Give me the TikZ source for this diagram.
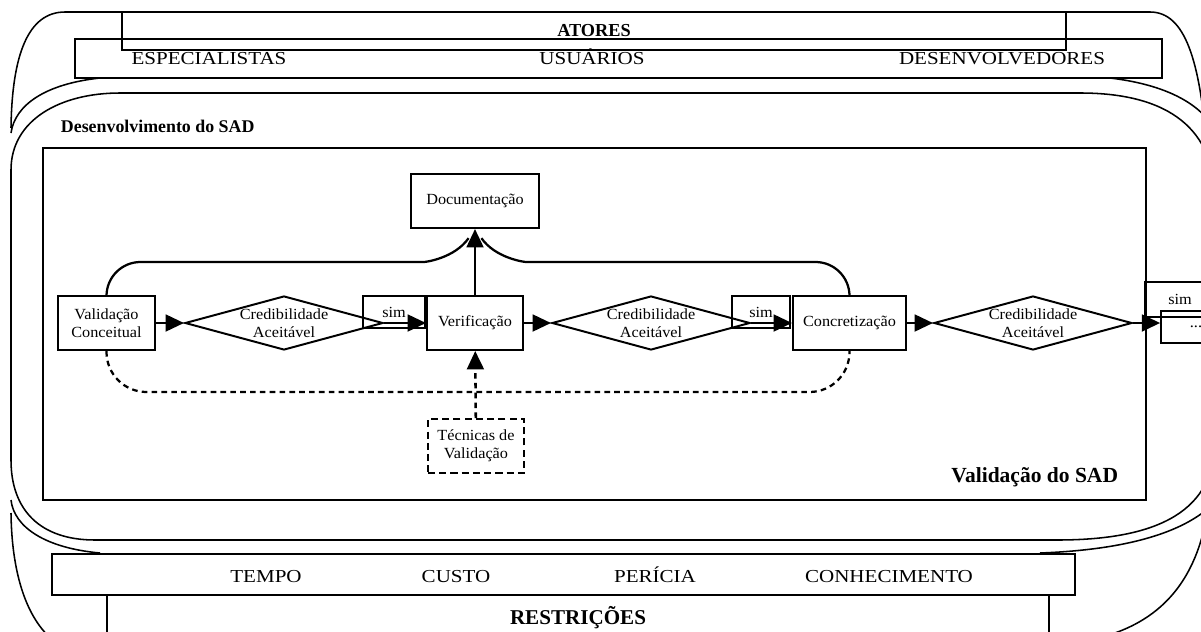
\documentclass[tikz,border=0pt]{standalone}
\usepackage{fontspec}
\setmainfont{Liberation Serif}
\newfontfamily\widefont{Liberation Serif}[FakeStretch=1.15]
\newfontfamily\nodefont{Liberation Serif}[FakeStretch=1.05]
\usetikzlibrary{shapes.geometric, arrows.meta, positioning}

\begin{document}
\begin{tikzpicture}[
    x=0.025cm, y=-0.025cm,
    every node/.style={font=\nodefont\fontsize{11}{12.5}\selectfont},
    process/.style={rectangle, minimum width=2.4cm, minimum height=1.35cm,
                    text centered, align=center, draw=black, line width=1.4pt},
    decision/.style={diamond, shape aspect=3.6, minimum width=4.95cm, minimum height=1.35cm,
                     inner sep=0pt, align=center, draw=black, line width=1.4pt},
    simbox/.style={rectangle, draw=black, line width=1.2pt, minimum width=1.5cm,
                   minimum height=0.8cm, inner sep=0pt},
    band/.style={rectangle, draw=black, line width=1.4pt, inner sep=0pt},
    frame/.style={line width=1.1pt},
    caps/.style={anchor=base, font=\widefont\fontsize{13}{15}\selectfont},
    title/.style={font=\bfseries\fontsize{#1}{#1}\selectfont},
    arrow/.style={-{Triangle[length=0.46cm, width=0.42cm]}, line width=1.8pt},
    dasharrow/.style={arrow, dash pattern=on 4pt off 3pt},
    link/.style={line width=1.6pt}
]
\useasboundingbox (0,0) rectangle (1201,631);
\clip (0,0) rectangle (1201,631);

% atores
\draw [frame] (11,128) .. controls (12,55) and (28,12) .. (65,12) -- (1150,12)
    .. controls (1185,12) and (1200,60) .. (1207,150);
\node (atores) [band, title=13, minimum width=23.6cm, minimum height=0.95cm] at (594,31) {ATORES};
\node (actors) [band, minimum width=27.175cm, minimum height=0.975cm] at (618.5,58.5) {};
\node (esp) [caps] at (209,64) {ESPECIALISTAS};
\node (usu) [caps] at (592,64) {USUÁRIOS};
\node (dev) [caps] at (1002,64) {DESENVOLVEDORES};
\draw [frame] (100,78) .. controls (45,84) and (15,105) .. (11,133);
\draw [frame] (1110,78) .. controls (1160,84) and (1195,100) .. (1212,125);

% desenvolvimento
\draw [frame] (120,93) -- (1080,93) .. controls (1170,93) and (1215,130) .. (1215,200)
    -- (1215,440) .. controls (1215,510) and (1160,540) .. (1057,540) -- (95,540)
    .. controls (40,540) and (11,510) .. (11,460) -- (11,170)
    .. controls (11,120) and (60,93) .. (120,93) -- cycle;
\node (dsad) [title=12.7, anchor=west] at (56,126) {Desenvolvimento do SAD};
\node (valsad) [band, minimum width=27.575cm, minimum height=8.8cm] at (594.5,324) {};
\node (vsad) [title=15.3, anchor=east] at (1123,477) {Validação do SAD};

% fluxo
\node (valconc) [process, minimum width=2.425cm] at (106.5,323) {Validação\\Conceitual};
\node (cred1) [decision] at (284,323) {Credibilidade\\Aceitável};
\node (verif) [process] at (475,323) {Verificação};
\node (cred2) [decision] at (651,323) {Credibilidade\\Aceitável};
\node (concret) [process, minimum width=2.825cm] at (849.5,323) {Concretização};
\node (cred3) [decision] at (1033,323) {Credibilidade\\Aceitável};
\node (doc) [process, minimum width=3.2cm] at (475,201) {Documentação};
\node (tecnicas) [process, dash pattern=on 5pt off 3pt] at (476,446) {Técnicas de\\Validação};

\node (sim1) [simbox, minimum width=1.55cm] at (394,312) {sim};
\node (sim2) [simbox, minimum width=1.45cm] at (761,312) {sim};
\node (sim3) [simbox, minimum width=1.75cm, minimum height=0.875cm] at (1180,299.5) {sim};
\node (cont) [simbox, minimum width=1.75cm] at (1196,327) {...};

\coordinate (docL) at (390,262);
\coordinate (docR) at (560,262);
\coordinate (dashbase) at (475,392);

\draw [arrow] (valconc) -- (cred1);
\draw [arrow] (cred1) -- (verif);
\draw [arrow] (verif) -- (cred2);
\draw [arrow] (cred2) -- (concret);
\draw [arrow] (concret) -- (cred3);
\draw [arrow] (cred3.east) -- (cred3.east -| cont.west);
\draw [arrow] (verif) -- (doc);
\draw [dasharrow] (tecnicas) -- (verif);
\draw [link, shorten >=0.28cm] [rounded corners=0.85cm] (valconc.north) |- (docL)
    [sharp corners] to[out=0, in=-125] (doc.south);
\draw [link, shorten >=0.28cm] [rounded corners=0.85cm] (concret.north) |- (docR)
    [sharp corners] to[out=180, in=-55] (doc.south);
\draw [link, dash pattern=on 4pt off 3pt, rounded corners=1cm] (valconc.south) |- (dashbase) -| (concret.south);

% restricoes
\draw [frame] (100,553) .. controls (45,548) and (14,527) .. (11,500);
\draw [frame] (1040,553) .. controls (1120,550) and (1180,535) .. (1212,505);
\draw [frame] (11,513) .. controls (12,590) and (35,630) .. (60,645) -- (1050,645)
    .. controls (1140,640) and (1192,600) .. (1207,515);
\node (limits) [band, minimum width=25.575cm, minimum height=1.025cm] at (563.5,574.5) {};
\node (restr) [band, title=15, minimum width=23.55cm, minimum height=1.125cm] at (578,617.5) {RESTRIÇÕES};
\node (tempo) [caps] at (266,582) {TEMPO};
\node (custo) [caps] at (456,582) {CUSTO};
\node (pericia) [caps] at (655,582) {PERÍCIA};
\node (conhec) [caps] at (889,582) {CONHECIMENTO};

\end{tikzpicture}
\end{document}
